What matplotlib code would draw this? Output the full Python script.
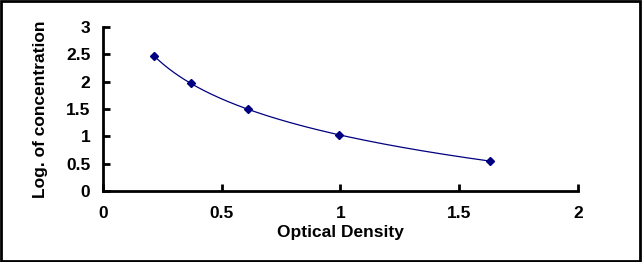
import numpy as np
import matplotlib
matplotlib.use("Agg")
import matplotlib.pyplot as plt
from matplotlib.patches import Rectangle

# standard curve points
od = [0.215, 0.37, 0.61, 0.994, 1.63]
log_conc = [2.47, 1.97, 1.50, 1.02, 0.55]

x_ticks = [0, 0.5, 1, 1.5, 2]
x_labels = ["0", "0.5", "1", "1.5", "2"]
y_ticks = [0, 0.5, 1, 1.5, 2, 2.5, 3]
y_labels = ["0", "0.5", "1", "1.5", "2", "2.5", "3"]

plt.rcParams['font.family'] = ['Liberation Sans', 'DejaVu Sans']

fig = plt.figure(figsize=(6.42, 2.62), dpi=100)
ax = fig.add_axes([0.1604, 0.271, 0.7399, 0.626])

# smooth trend line fitted in log(x)
coef = np.polyfit(np.log(od), log_conc, 2)
xs = np.linspace(min(od), max(od), 200)
ax.plot(xs, np.polyval(coef, np.log(xs)), color="#000080", lw=0.9)
ax.plot(od, log_conc, linestyle="none", marker="D", markersize=4.5,
        color="#000080")

ax.set_xlim(0, 2)
ax.set_ylim(0, 3)
ax.set_xticks(x_ticks)
ax.set_xticklabels(x_labels)
ax.set_yticks(y_ticks)
ax.set_yticklabels(y_labels)
for s in ["top", "right"]:
    ax.spines[s].set_visible(False)
for s in ["left", "bottom"]:
    ax.spines[s].set_linewidth(2)
ax.tick_params(direction="in", length=5, width=2, labelsize=12.5, pad=11)
ax.tick_params(axis="y", pad=9)
for lab in ax.get_xticklabels() + ax.get_yticklabels():
    lab.set_fontweight("bold")

ax.set_xlabel("Optical Density", fontsize=12.5, fontweight="bold", labelpad=3)
ax.set_ylabel("Log. of concentration", fontsize=12.5, fontweight="bold", labelpad=13)

fig.patches.append(Rectangle((0.002, 0.004), 0.995, 0.992, transform=fig.transFigure,
                             fill=False, edgecolor="black", lw=2))

fig.savefig("out.png", dpi=100)
